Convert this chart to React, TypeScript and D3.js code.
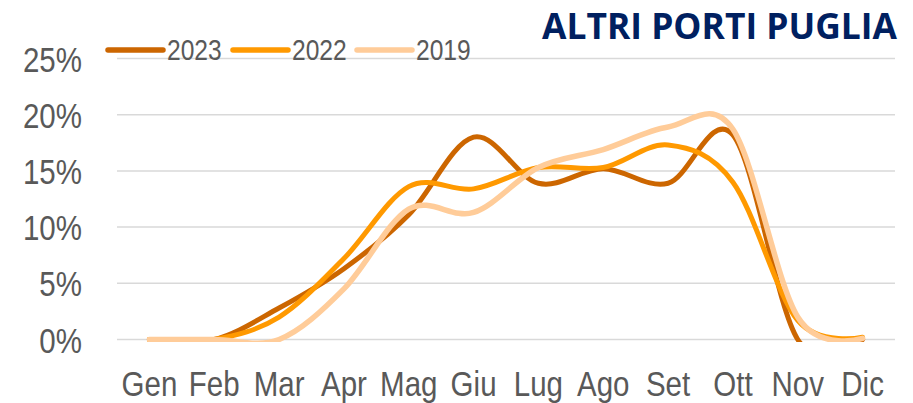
import React from "react";
import * as d3 from "d3";

const months = ["Gen", "Feb", "Mar", "Apr", "Mag", "Giu", "Lug", "Ago", "Set", "Ott", "Nov", "Dic"];
const s2023 = [0, 0, 2.8, 6.3, 11.1, 18.0, 13.9, 15.2, 13.9, 18.2, 0, 0];
const s2022 = [0, 0, 2.0, 7.2, 13.6, 13.4, 15.3, 15.3, 17.3, 14.0, 1.7, 0.2];
const s2019 = [0, 0, 0, 4.5, 11.6, 11.3, 15.3, 16.9, 18.9, 18.7, 2.0, 0.1];
const yTicks = [0, 5, 10, 15, 20, 25];

const seriesList = [
  { name: "2023", values: s2023, color: "#CC6600", width: 5 },
  { name: "2022", values: s2022, color: "#FF9900", width: 5 },
  { name: "2019", values: s2019, color: "#FFCC99", width: 5.5 },
];

const W = 913;
const H = 403;
const left = 117;
const right = 895;
const top = 58.5;
const bottom = 339.5;
const NARROW = 0.82;

function NarrowText(props: {
  x: number;
  y: number;
  anchor: "start" | "middle" | "end";
  size: number;
  children: React.ReactNode;
}) {
  return (
    <text
      transform={`translate(${props.x},${props.y}) scale(${NARROW},1)`}
      textAnchor={props.anchor}
      fontFamily="'Liberation Sans', Arial, sans-serif"
      fontSize={props.size}
      fill="#595959"
    >
      {props.children}
    </text>
  );
}

export default function App() {
  const x = d3.scaleBand<string>().domain(months).range([left, right]);
  const y = d3.scaleLinear().domain([0, 25]).range([bottom, top]);
  const cx = (m: string) => (x(m) as number) + x.bandwidth() / 2;

  const line = d3
    .line<number>()
    .x((_, i) => cx(months[i]))
    .y((d) => y(d))
    .curve(d3.curveCardinal.tension(0));

  const legendX = [108, 233, 357];

  return (
    <svg
      width={W}
      height={H}
      style={{ position: "absolute", left: 0, top: 0, background: "#fff" }}
    >
      <defs>
        <clipPath id="plot">
          <rect x={left} y={0} width={right - left} height={bottom + 2.5} />
        </clipPath>
      </defs>
      {yTicks.map((t) => (
        <line
          key={t}
          x1={left}
          x2={right}
          y1={y(t)}
          y2={y(t)}
          stroke="#D9D9D9"
          strokeWidth={1.5}
        />
      ))}
      {yTicks.map((t) => (
        <NarrowText key={"l" + t} x={82} y={y(t) + 13} anchor="end" size={36}>
          {t + "%"}
        </NarrowText>
      ))}
      {months.map((m) => (
        <NarrowText key={m} x={cx(m)} y={396} anchor="middle" size={36}>
          {m}
        </NarrowText>
      ))}
      <g clipPath="url(#plot)">
        {seriesList.map((s) => (
          <path
            key={s.name}
            d={line(s.values) as string}
            fill="none"
            stroke={s.color}
            strokeWidth={s.width}
            strokeLinecap="round"
            strokeLinejoin="round"
          />
        ))}
      </g>
      {seriesList.map((s, i) => (
        <g key={"lg" + s.name}>
          <line
            x1={legendX[i]}
            x2={legendX[i] + 55}
            y1={50}
            y2={50}
            stroke={s.color}
            strokeWidth={5.5}
            strokeLinecap="round"
          />
          <NarrowText x={legendX[i] + 59} y={60} anchor="start" size={30}>
            {s.name}
          </NarrowText>
        </g>
      ))}
      <text
        x={897}
        y={39}
        textAnchor="end"
        fontFamily="'Open Sans', 'Noto Sans', sans-serif"
        fontWeight="bold"
        fontSize={36}
        fill="#002060"
        textLength={355}
        lengthAdjust="spacingAndGlyphs"
      >
        ALTRI PORTI PUGLIA
      </text>
    </svg>
  );
}
